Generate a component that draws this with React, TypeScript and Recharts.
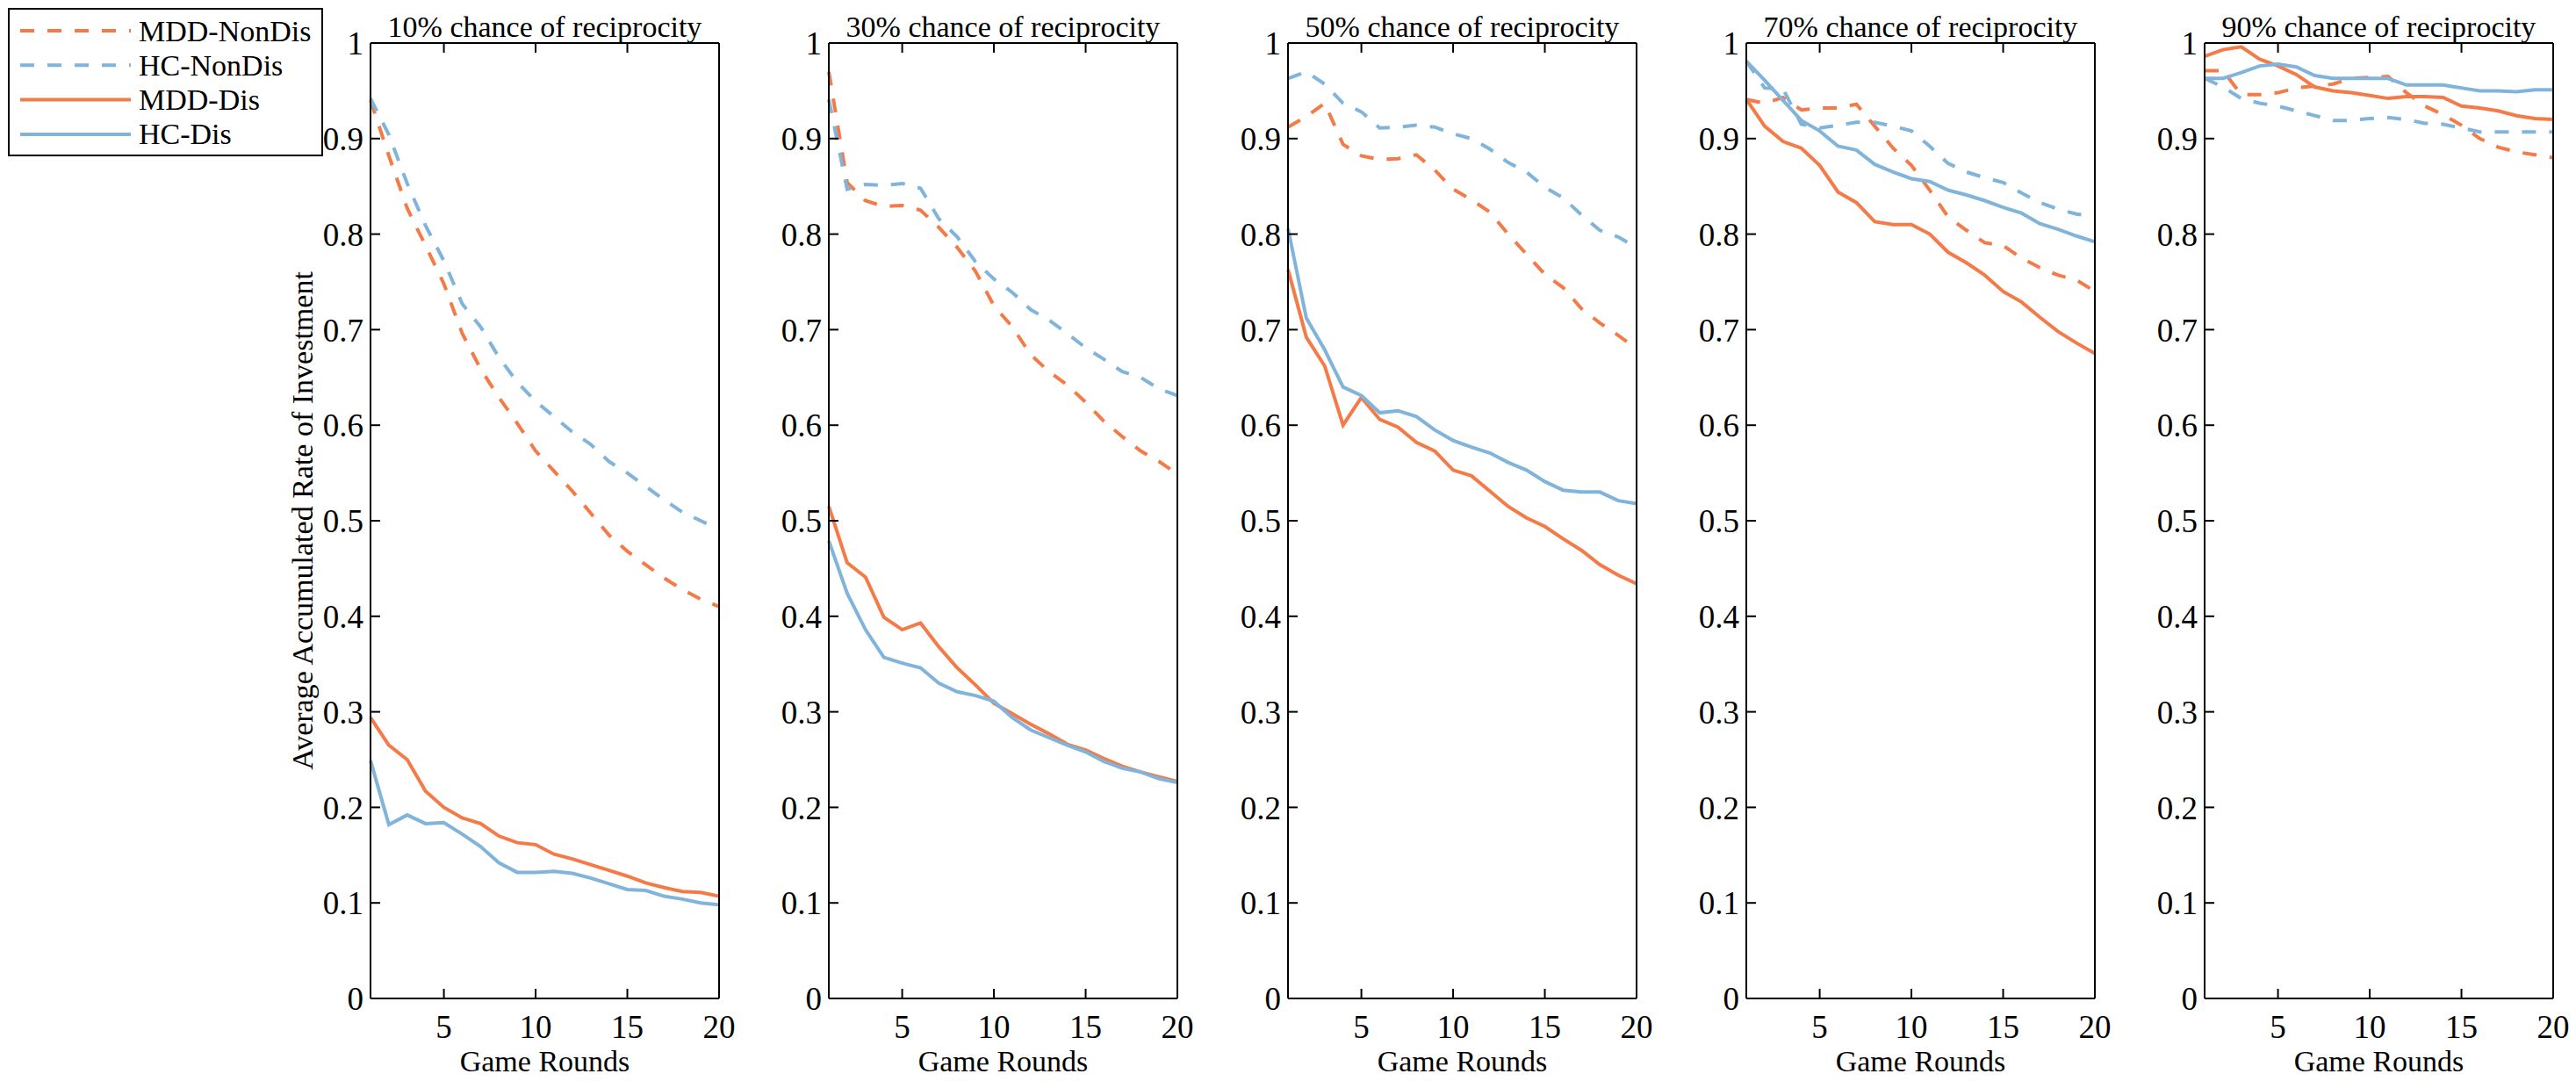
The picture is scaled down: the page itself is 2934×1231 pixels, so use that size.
import React from 'react';
import { LineChart, Line, XAxis, YAxis, Legend } from 'recharts';

// Game rounds and axis ticks
const ROUNDS = [1, 2, 3, 4, 5, 6, 7, 8, 9, 10, 11, 12, 13, 14, 15, 16, 17, 18, 19, 20];
const X_TICKS = [5, 10, 15, 20];
const Y_TICKS = [0, 0.1, 0.2, 0.3, 0.4, 0.5, 0.6, 0.7, 0.8, 0.9, 1];

const PANEL_TITLES = [
  '10% chance of reciprocity',
  '30% chance of reciprocity',
  '50% chance of reciprocity',
  '70% chance of reciprocity',
  '90% chance of reciprocity',
];

// 10% chance of reciprocity
const mddNonDis10 = [0.94, 0.882, 0.827, 0.788, 0.748, 0.696, 0.659, 0.629, 0.602, 0.573, 0.552, 0.531, 0.508, 0.485, 0.468, 0.454, 0.44, 0.428, 0.418, 0.41];
const hcNonDis10 = [0.942, 0.904, 0.853, 0.809, 0.772, 0.727, 0.703, 0.671, 0.645, 0.625, 0.609, 0.593, 0.58, 0.562, 0.55, 0.536, 0.522, 0.509, 0.5, 0.491];
const mddDis10 = [0.294, 0.265, 0.25, 0.217, 0.2, 0.189, 0.183, 0.17, 0.163, 0.161, 0.151, 0.146, 0.14, 0.134, 0.128, 0.121, 0.116, 0.112, 0.111, 0.107];
const hcDis10 = [0.249, 0.182, 0.192, 0.183, 0.184, 0.172, 0.159, 0.142, 0.132, 0.132, 0.133, 0.131, 0.126, 0.12, 0.114, 0.113, 0.107, 0.104, 0.1, 0.098];

// 30% chance of reciprocity
const mddNonDis30 = [0.97, 0.854, 0.835, 0.829, 0.83, 0.825, 0.807, 0.786, 0.761, 0.725, 0.703, 0.674, 0.656, 0.642, 0.624, 0.604, 0.588, 0.573, 0.562, 0.549];
const hcNonDis30 = [0.941, 0.847, 0.852, 0.851, 0.853, 0.848, 0.816, 0.797, 0.771, 0.753, 0.739, 0.721, 0.71, 0.696, 0.681, 0.669, 0.656, 0.65, 0.638, 0.631];
const mddDis30 = [0.515, 0.456, 0.441, 0.399, 0.386, 0.393, 0.368, 0.346, 0.328, 0.309, 0.298, 0.287, 0.277, 0.266, 0.26, 0.251, 0.243, 0.237, 0.232, 0.227];
const hcDis30 = [0.479, 0.424, 0.386, 0.357, 0.351, 0.346, 0.33, 0.321, 0.317, 0.311, 0.294, 0.281, 0.273, 0.265, 0.258, 0.248, 0.241, 0.237, 0.23, 0.226];

// 50% chance of reciprocity
const mddNonDis50 = [0.912, 0.923, 0.937, 0.894, 0.882, 0.878, 0.879, 0.883, 0.867, 0.847, 0.836, 0.823, 0.8, 0.779, 0.758, 0.744, 0.722, 0.707, 0.694, 0.68];
const hcNonDis50 = [0.963, 0.97, 0.957, 0.937, 0.928, 0.911, 0.912, 0.914, 0.912, 0.905, 0.9, 0.889, 0.875, 0.865, 0.849, 0.838, 0.82, 0.804, 0.797, 0.786];
const mddDis50 = [0.763, 0.692, 0.662, 0.6, 0.629, 0.606, 0.598, 0.582, 0.573, 0.553, 0.547, 0.531, 0.515, 0.503, 0.494, 0.481, 0.469, 0.454, 0.443, 0.434];
const hcDis50 = [0.806, 0.712, 0.679, 0.64, 0.631, 0.613, 0.615, 0.609, 0.595, 0.584, 0.577, 0.571, 0.561, 0.553, 0.541, 0.532, 0.53, 0.53, 0.521, 0.518];

// 70% chance of reciprocity
const mddNonDis70 = [0.941, 0.937, 0.943, 0.93, 0.932, 0.932, 0.936, 0.913, 0.89, 0.872, 0.846, 0.818, 0.804, 0.791, 0.788, 0.775, 0.765, 0.757, 0.752, 0.74];
const hcNonDis70 = [0.981, 0.953, 0.952, 0.915, 0.911, 0.914, 0.917, 0.917, 0.913, 0.908, 0.892, 0.874, 0.865, 0.859, 0.854, 0.843, 0.833, 0.826, 0.821, 0.818];
const mddDis70 = [0.941, 0.913, 0.897, 0.89, 0.872, 0.844, 0.833, 0.813, 0.81, 0.81, 0.8, 0.781, 0.77, 0.757, 0.74, 0.729, 0.713, 0.698, 0.686, 0.675];
const hcDis70 = [0.981, 0.961, 0.94, 0.919, 0.908, 0.892, 0.888, 0.873, 0.865, 0.858, 0.855, 0.846, 0.841, 0.835, 0.828, 0.822, 0.811, 0.805, 0.798, 0.792];

// 90% chance of reciprocity
const mddNonDis90 = [0.971, 0.971, 0.946, 0.946, 0.948, 0.953, 0.955, 0.957, 0.963, 0.964, 0.965, 0.948, 0.934, 0.925, 0.914, 0.9, 0.891, 0.886, 0.883, 0.88];
const hcNonDis90 = [0.963, 0.954, 0.942, 0.937, 0.934, 0.929, 0.924, 0.919, 0.919, 0.921, 0.922, 0.92, 0.916, 0.915, 0.911, 0.907, 0.907, 0.907, 0.907, 0.907];
const mddDis90 = [0.986, 0.993, 0.996, 0.983, 0.976, 0.967, 0.954, 0.95, 0.948, 0.945, 0.942, 0.944, 0.944, 0.943, 0.934, 0.932, 0.929, 0.924, 0.921, 0.92];
const hcDis90 = [0.963, 0.963, 0.969, 0.976, 0.978, 0.975, 0.966, 0.963, 0.963, 0.963, 0.963, 0.956, 0.956, 0.956, 0.953, 0.95, 0.95, 0.949, 0.951, 0.951];

const ORANGE = '#F47B48';
const BLUE = '#80B4DA';
const DASH = '16 15';
const FONT = "'Liberation Serif', 'Times New Roman', Times, serif";

const SERIES = [
  { key: 'mddNonDis', name: 'MDD-NonDis', color: ORANGE, dash: DASH },
  { key: 'hcNonDis', name: 'HC-NonDis', color: BLUE, dash: DASH },
  { key: 'mddDis', name: 'MDD-Dis', color: ORANGE, dash: undefined },
  { key: 'hcDis', name: 'HC-Dis', color: BLUE, dash: undefined },
];

const PANEL_DATA = [
  [mddNonDis10, hcNonDis10, mddDis10, hcDis10],
  [mddNonDis30, hcNonDis30, mddDis30, hcDis30],
  [mddNonDis50, hcNonDis50, mddDis50, hcDis50],
  [mddNonDis70, hcNonDis70, mddDis70, hcDis70],
  [mddNonDis90, hcNonDis90, mddDis90, hcDis90],
];

// layout (px)
const FIG_W = 2934;
const FIG_H = 1231;
const PLOT_TOP = 49;
const PLOT_BOTTOM = 1137;
const PLOT_W = 397;
const FIRST_LEFT = 422;
const PANEL_STEP = 522.25;
const Y_AXIS_W = 156;
const RIGHT_PAD = 40;
const CHART_W = Y_AXIS_W + PLOT_W + 1 + RIGHT_PAD;

const buildRows = (arrs: number[][]) =>
  ROUNDS.map((round, i) => {
    const row: Record<string, number> = { round };
    SERIES.forEach((s, k) => {
      row[s.key] = arrs[k][i];
    });
    return row;
  });

const noTick = () => <g />;

const LegendBox = (props: any) => {
  const items = (props.payload || []) as any[];
  return (
    <svg width={359} height={169} style={{ display: 'block' }}>
      <rect x={1} y={1} width={357} height={167} fill="#fff" stroke="#000" strokeWidth={2} />
      {SERIES.map((s, i) => {
        const entry = items.find(d => d.dataKey === s.key) || {};
        const y = 26 + i * 39.3;
        return (
          <g key={s.key}>
            <line x1={14} x2={140} y1={y} y2={y} stroke={entry.color || s.color} strokeWidth={4} strokeDasharray={s.dash} />
            <text x={149} y={y} dominantBaseline="central" fontSize={34} fontFamily={FONT} fill="#000">
              {entry.value || s.name}
            </text>
          </g>
        );
      })}
    </svg>
  );
};

const Panel = ({ index }: { index: number }) => {
  const rows = buildRows(PANEL_DATA[index]);
  const plotLeft = Math.round(FIRST_LEFT + index * PANEL_STEP);
  const chartLeft = plotLeft - Y_AXIS_W;
  const tickStyle = { fontSize: 37, fill: '#000', fontFamily: FONT };
  const axisLine = { stroke: '#000', strokeWidth: 2 };
  const tickLine = { stroke: '#000', strokeWidth: 2 };

  return (
    <div style={{ position: 'absolute', left: chartLeft, top: 0 }}>
      <LineChart
        width={CHART_W}
        height={FIG_H}
        data={rows}
        margin={{ top: PLOT_TOP - 1, right: RIGHT_PAD, bottom: 0, left: 0 }}
        style={{ fontFamily: FONT }}
      >
        <XAxis
          xAxisId="b"
          dataKey="round"
          type="number"
          domain={[1, 20]}
          ticks={X_TICKS}
          interval={0}
          height={FIG_H - PLOT_BOTTOM}
          tickSize={-11}
          tickMargin={30}
          axisLine={axisLine}
          tickLine={tickLine}
          tick={tickStyle}
          label={{ value: 'Game Rounds', position: 'insideBottom', offset: 11, fontSize: 34, fill: '#000', fontFamily: FONT }}
        />
        <XAxis
          xAxisId="t"
          orientation="top"
          dataKey="round"
          type="number"
          domain={[1, 20]}
          ticks={X_TICKS}
          interval={0}
          height={1}
          tickSize={-11}
          axisLine={axisLine}
          tickLine={tickLine}
          tick={noTick}
          label={{ value: PANEL_TITLES[index], position: 'top', offset: 6, fontSize: 34, fill: '#000', fontFamily: FONT }}
        />
        <YAxis
          yAxisId="l"
          type="number"
          domain={[0, 1]}
          ticks={Y_TICKS}
          interval={0}
          width={Y_AXIS_W}
          tickSize={-11}
          tickMargin={19}
          axisLine={axisLine}
          tickLine={tickLine}
          tick={tickStyle}
          label={
            index === 0
              ? { value: 'Average Accumulated Rate of Investment', angle: -90, position: 'center', fontSize: 34, fill: '#000', fontFamily: FONT }
              : undefined
          }
        />
        <YAxis
          yAxisId="r"
          orientation="right"
          type="number"
          domain={[0, 1]}
          ticks={Y_TICKS}
          interval={0}
          width={1}
          tickSize={-11}
          axisLine={axisLine}
          tickLine={tickLine}
          tick={noTick}
        />
        {index === 0 && (
          <Legend
            layout="vertical"
            align="center"
            verticalAlign="middle"
            content={LegendBox}
            wrapperStyle={{ left: 9 - chartLeft, top: 9, width: 359, height: 169 }}
          />
        )}
        {SERIES.map(s => (
          <Line
            key={s.key}
            xAxisId="b"
            yAxisId="l"
            type="linear"
            dataKey={s.key}
            name={s.name}
            stroke={s.color}
            strokeWidth={4}
            strokeDasharray={s.dash}
            dot={false}
            activeDot={false}
            isAnimationActive={false}
          />
        ))}
      </LineChart>
    </div>
  );
};

export default function App() {
  return (
    <div style={{ position: 'relative', width: FIG_W, height: FIG_H, background: '#fff', fontFamily: FONT }}>
      <style>{`body { margin: 0; background: #fff; } .recharts-text { font-family: ${FONT}; }`}</style>
      {PANEL_TITLES.map((t, i) => (
        <Panel key={t} index={i} />
      ))}
    </div>
  );
}
